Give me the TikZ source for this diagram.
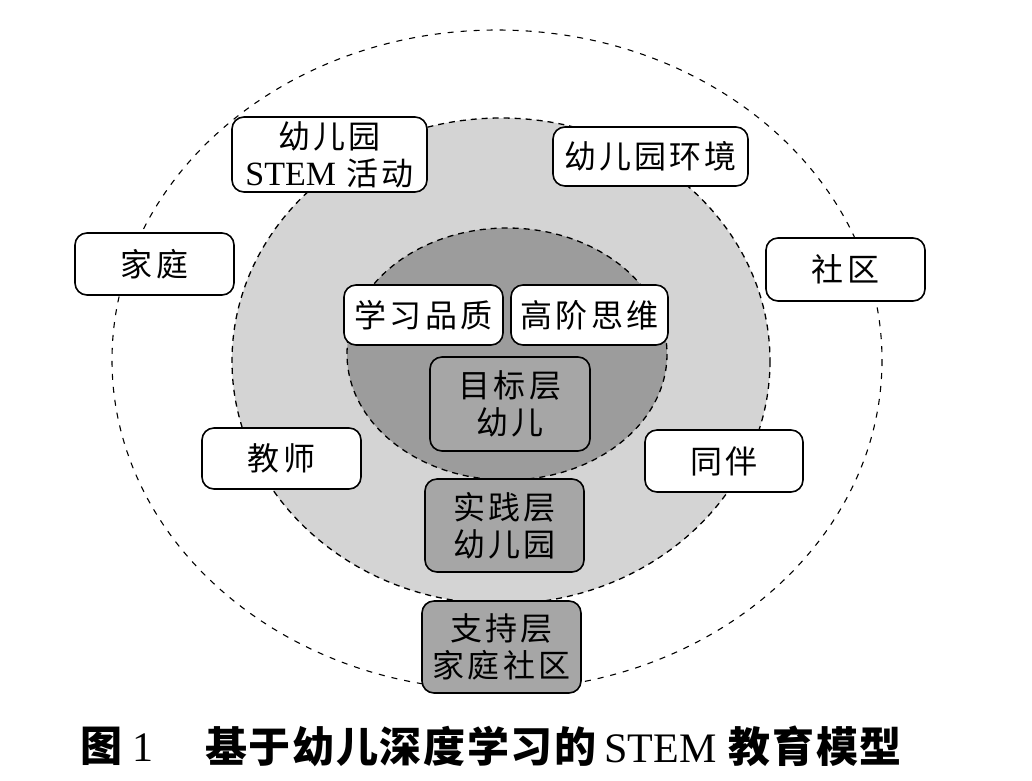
\documentclass[tikz,border=0pt]{standalone}
\usepackage{fontspec}
\setmainfont{Liberation Serif}
\newfontfamily\cjk{Noto Sans CJK SC}[LetterSpace=10]
\newfontfamily\cjkcap{Noto Sans CJK SC}[LetterSpace=4]
\definecolor{midgray}{HTML}{D4D4D4}
\definecolor{darkgray}{HTML}{9C9C9C}
\definecolor{boxgray}{HTML}{A6A6A6}
\newcommand{\lat}[1]{{\fontspec{Liberation Serif}\fontsize{34}{37}\selectfont #1}}
\newcommand{\caplat}[1]{{\fontspec{Liberation Serif}\mdseries\fontsize{42}{44}\selectfont #1}}
\tikzset{
  ring/.style={dash pattern=on 6pt off 5pt, line width=1.3pt},
  outerring/.style={dash pattern=on 6pt off 7pt, line width=1.1pt},
  wbox/.style={draw=black, line width=1.6pt, rounded corners=12pt, fill=white,
    align=center, inner sep=0pt, font=\fontsize{32}{37}\selectfont\cjk},
  gbox/.style={wbox, fill=boxgray},
  captext/.style={font=\fontsize{42}{44}\selectfont\cjkcap\bfseries, inner sep=0pt, anchor=west},
}
\begin{document}
\begin{tikzpicture}[x=1pt,y=-1pt]
\useasboundingbox (0,0) rectangle (1032,780);
\fill[white] (0,0) rectangle (1032,780);
% ellipses
\draw[outerring] (497,360) ellipse [x radius=385, y radius=330];
\fill[midgray] (501,361) ellipse [x radius=269, y radius=243];
\draw[ring] (501,361) ellipse [x radius=269, y radius=243];
\fill[darkgray] (507,354) ellipse [x radius=160, y radius=126];
\draw[ring] (507,354) ellipse [x radius=160, y radius=126];
% boxes
\node[wbox, minimum width=195pt, minimum height=75pt] (act) at (329.5,154.5) {幼儿园\\\lat{STEM} 活动};
\node[wbox, minimum width=195pt, minimum height=59pt] (env) at (650.5,156.5) {幼儿园环境};
\node[wbox, minimum width=159pt, minimum height=62pt] (home) at (154.5,264) {家庭};
\node[wbox, minimum width=159pt, minimum height=63pt] (comm) at (845.5,269.5) {社区};
\node[wbox, minimum width=159pt, minimum height=60pt] (qual) at (423.5,315) {学习品质};
\node[wbox, minimum width=157pt, minimum height=60pt] (think) at (589.5,315) {高阶思维};
\node[gbox, minimum width=160pt, minimum height=94pt] (goal) at (510,404) {目标层\\幼儿};
\node[wbox, minimum width=159pt, minimum height=61pt] (teacher) at (281.5,458.5) {教师};
\node[wbox, minimum width=158pt, minimum height=62pt] (peer) at (724,461) {同伴};
\node[gbox, minimum width=159pt, minimum height=93pt] (prac) at (504.5,525.5) {实践层\\幼儿园};
\node[gbox, minimum width=159pt, minimum height=92pt] (supp) at (501.5,647) {支持层\\家庭社区};
% caption
\node[captext] (capnum) at (80,746) {图\hspace{10pt}\caplat{1}};
\node[captext] (captitle) at (205,746) {基于幼儿深度学习的\hspace{8pt}\caplat{STEM}\hspace{12pt}教育模型};
\end{tikzpicture}
\end{document}
